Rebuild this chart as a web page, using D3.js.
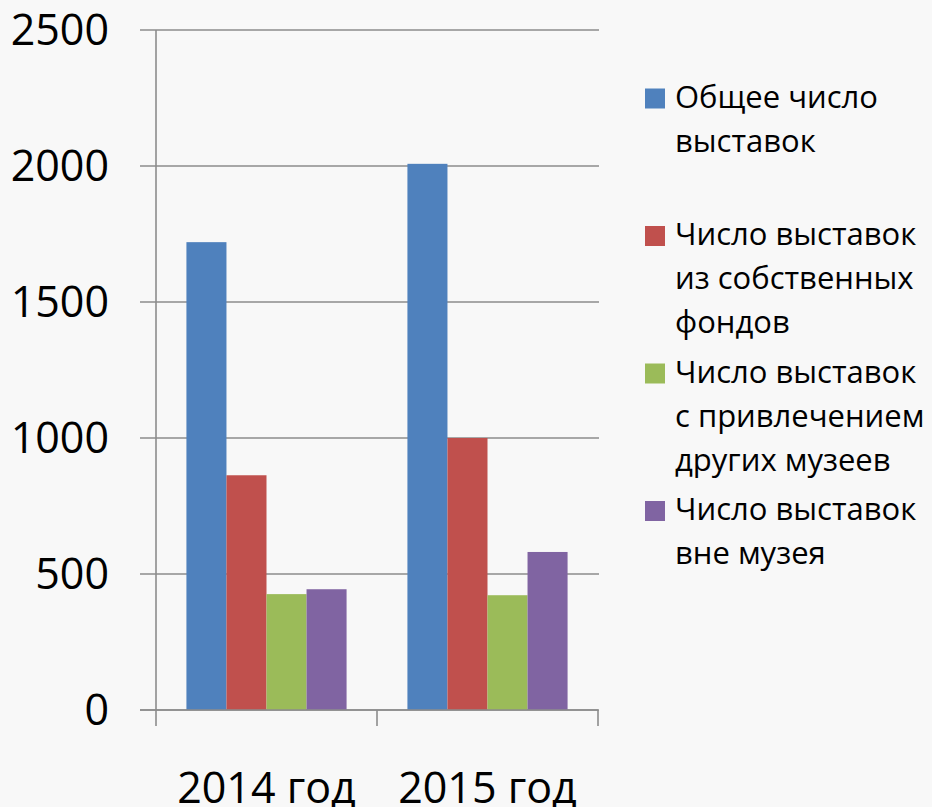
<!DOCTYPE html>
<html lang="ru">
<head>
    <meta charset="UTF-8">
    <title>Число выставок</title>
    <script src="https://cdn.jsdelivr.net/npm/d3@7"></script>
    <style>
        body { margin: 0; background: #f8f8f8; }
        svg { display: block; }
        .lbl { font-family: "Open Sans", sans-serif; fill: #000; }
    </style>
</head>
<body>
<script>
    // данные
    var categories = ["2014 год", "2015 год"];
    var seriesNames = [
        ["Общее число", "выставок"],
        ["Число выставок", "из собственных", "фондов"],
        ["Число выставок", "с привлечением", "других музеев"],
        ["Число выставок", "вне музея"]
    ];
    var totalAll = [1720, 2008];
    var ownFunds = [863, 1000];
    var otherMuseums = [426, 422];
    var outside = [444, 581];
    var yTicks = [0, 500, 1000, 1500, 2000, 2500];
    var colors = ["#4f81bd", "#c0504d", "#9bbb59", "#8064a2"];

    var series = [totalAll, ownFunds, otherMuseums, outside];

    var W = 932, H = 807;
    var plotL = 156, plotR = 598, plotT = 30, plotB = 710;

    var svg = d3.select("body").append("svg")
        .attr("width", W).attr("height", H);

    svg.append("rect").attr("width", W).attr("height", H).attr("fill", "#f8f8f8");

    var y = d3.scaleLinear().domain([0, 2500]).range([plotB, plotT]);
    var x0 = d3.scaleBand().domain(categories).range([plotL, plotR]).padding(0);
    var x1 = d3.scaleBand().domain(d3.range(series.length))
        .range([0, x0.bandwidth()]).paddingInner(0).paddingOuter(0.76);

    // сетка + засечки слева
    svg.append("g").selectAll("line").data(yTicks).enter().append("line")
        .attr("x1", plotL - 16).attr("x2", plotR + 1)
        .attr("y1", function (d) { return y(d); })
        .attr("y2", function (d) { return y(d); })
        .attr("stroke", "#8c8c8c").attr("stroke-width", 1.6);

    // подписи оси Y
    svg.append("g").selectAll("text").data(yTicks).enter().append("text")
        .attr("class", "lbl")
        .attr("x", 109)
        .attr("y", function (d) { return y(d) + 15; })
        .attr("text-anchor", "end")
        .attr("font-size", 43)
        .text(function (d) { return d; });

    // столбцы
    var groups = svg.append("g").selectAll("g").data(categories).enter().append("g")
        .attr("transform", function (d) { return "translate(" + x0(d) + ",0)"; });

    groups.selectAll("rect")
        .data(function (d, ci) { return series.map(function (s, si) { return {si: si, v: s[ci]}; }); })
        .enter().append("rect")
        .attr("x", function (d) { return x1(d.si); })
        .attr("width", x1.bandwidth())
        .attr("y", function (d) { return y(d.v); })
        .attr("height", function (d) { return plotB - y(d.v); })
        .attr("fill", function (d) { return colors[d.si]; });

    // оси
    svg.append("line")
        .attr("x1", plotL).attr("x2", plotL).attr("y1", plotT).attr("y2", plotB + 16)
        .attr("stroke", "#8c8c8c").attr("stroke-width", 1.6);
    svg.append("line")
        .attr("x1", plotL - 16).attr("x2", plotR).attr("y1", plotB).attr("y2", plotB)
        .attr("stroke", "#8c8c8c").attr("stroke-width", 1.6);
    var catEdges = categories.map(function (c) { return x0(c) + x0.bandwidth(); });
    svg.append("g").selectAll("line").data(catEdges).enter().append("line")
        .attr("x1", function (d) { return d; }).attr("x2", function (d) { return d; })
        .attr("y1", plotB).attr("y2", plotB + 16)
        .attr("stroke", "#8c8c8c").attr("stroke-width", 1.6);

    // подписи категорий
    svg.append("g").selectAll("text").data(categories).enter().append("text")
        .attr("class", "lbl")
        .attr("x", function (d) { return x0(d) + x0.bandwidth() / 2; })
        .attr("y", 803)
        .attr("text-anchor", "middle")
        .attr("font-size", 43)
        .text(function (d) { return d; });

    // легенда
    var leg = svg.append("g").selectAll("g").data(seriesNames).enter().append("g")
        .attr("transform", function (d, i) { return "translate(645," + (107.5 + i * 137.5) + ")"; });

    leg.append("rect")
        .attr("x", 0).attr("y", -19).attr("width", 20).attr("height", 20)
        .attr("fill", function (d, i) { return colors[i]; });

    leg.each(function (lines) {
        var t = d3.select(this).append("text")
            .attr("class", "lbl").attr("font-size", 31);
        lines.forEach(function (l, k) {
            t.append("tspan").attr("x", 30).attr("y", k * 44).text(l);
        });
    });
</script>
</body>
</html>
